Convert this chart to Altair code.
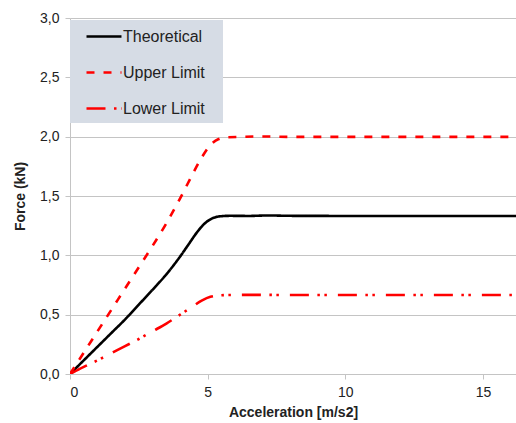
import altair as alt
import pandas as pd

series_names = ["Theoretical", "Upper Limit", "Lower Limit"]

theo_x = [0, 0.5, 1, 1.5, 2, 2.5, 3, 3.5, 4, 4.3, 4.6, 4.9, 5.2, 5.5, 5.8, 6.5, 7.2, 8, 10, 12, 14, 16.2]
theo_y = [0, 0.115, 0.23, 0.345, 0.46, 0.585, 0.71, 0.84, 0.99, 1.09, 1.19, 1.27, 1.315, 1.33, 1.333, 1.332, 1.336, 1.333, 1.332, 1.332, 1.332, 1.332]

upper_x = [0, 0.5, 1, 1.5, 2, 2.5, 3, 3.5, 4, 4.4, 4.8, 5.1, 5.4, 5.7, 6.2, 7, 8, 10, 12, 14, 16.2]
upper_y = [0, 0.18, 0.36, 0.54, 0.72, 0.9, 1.08, 1.27, 1.48, 1.66, 1.83, 1.93, 1.98, 1.995, 1.998, 2.002, 1.998, 1.998, 1.998, 1.998, 1.998]

lower_x = [0, 0.5, 1, 1.5, 2, 2.5, 3, 3.5, 4, 4.4, 4.8, 5.1, 5.4, 5.8, 6.5, 8, 10, 12, 14, 16.2]
lower_y = [0, 0.06, 0.115, 0.175, 0.235, 0.295, 0.36, 0.425, 0.5, 0.56, 0.62, 0.65, 0.662, 0.666, 0.667, 0.666, 0.666, 0.666, 0.666, 0.666]

rows = []
for name, xs, ys in [(series_names[0], theo_x, theo_y),
                     (series_names[1], upper_x, upper_y),
                     (series_names[2], lower_x, lower_y)]:
    for i, (xv, yv) in enumerate(zip(xs, ys)):
        rows.append({"series": name, "x": xv, "y": yv, "order": i})
df = pd.DataFrame(rows)

FONT = "Liberation Sans"
GRID = "#c4c4c4"


def make_legend():
    return alt.Legend(title=None, orient="none", legendX=0, legendY=2,
                      fillColor="#d6dce5", padding=6,
                      symbolType="M0,0H4", symbolSize=306,
                      symbolStrokeWidth=2.6, rowPadding=17,
                      labelFont=FONT, labelFontSize=16, labelColor="#222222",
                      labelOffset=26, labelLimit=250,
                      labelExpr="datum.label + '\u2800'")


chart = alt.Chart(df).mark_line(strokeWidth=2.6, interpolate="monotone", clip=True).encode(
    x=alt.X("x:Q",
            scale=alt.Scale(domain=[0, 16.2], nice=False, zero=True),
            axis=alt.Axis(title="Acceleration [m/s2]", values=[0, 5, 10, 15], grid=False,
                          domainColor=GRID, tickColor=GRID, tickSize=5,
                          labelFont=FONT, labelFontSize=14, labelColor="#222222",
                          labelPadding=6,
                          titleFont=FONT, titleFontSize=14, titleFontWeight="bold",
                          titleColor="#222222", titlePadding=6)),
    y=alt.Y("y:Q",
            scale=alt.Scale(domain=[0, 3], nice=False),
            axis=alt.Axis(title="Force (kN)", values=[0, 0.5, 1, 1.5, 2, 2.5, 3],
                          labelExpr="replace(format(datum.value, '.1f'), '.', ',')",
                          grid=True, gridColor=GRID, gridWidth=1.2,
                          domainColor=GRID, tickColor=GRID, tickSize=5,
                          labelFont=FONT, labelFontSize=14, labelColor="#222222",
                          labelPadding=6,
                          titleFont=FONT, titleFontSize=14, titleFontWeight="bold",
                          titleColor="#222222", titlePadding=12)),
    color=alt.Color("series:N",
                    scale=alt.Scale(domain=series_names, range=["#000000", "#ff0000", "#ff0000"]),
                    legend=make_legend()),
    strokeDash=alt.StrokeDash("series:N",
                              scale=alt.Scale(domain=series_names,
                                              range=[[1, 0], [8, 9], [19, 8.5, 2.5, 4.5, 2.5, 11]]),
                              legend=make_legend()),
    order="order:Q",
).properties(
    width=446, height=356,
    autosize=alt.AutoSizeParams(type="none"),
    padding={"left": 70, "top": 18, "right": 0, "bottom": 49},
).configure_view(stroke=None)

chart.save("out.html", embed_options={"renderer": "svg", "actions": False})
